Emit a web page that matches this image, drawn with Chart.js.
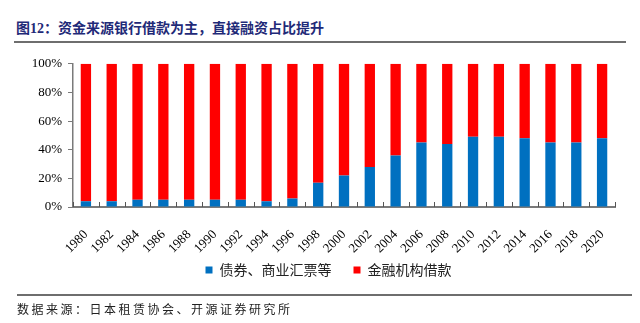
<!DOCTYPE html>
<html>
<head>
<meta charset="utf-8">
<script src="https://cdn.jsdelivr.net/npm/chart.js@4.4.0/dist/chart.umd.min.js"></script>
<style>
  body { margin: 0; background: #fff; }
  #wrap { position: relative; width: 640px; height: 323px; overflow: hidden; }
  #title { position: absolute; left: 16px; top: 17px; font: bold 14px "Liberation Serif", "Noto Sans CJK SC"; color: #1f2a78; white-space: nowrap; }
  .rule { position: absolute; height: 0; border-top: 2px solid #6e6e6e; z-index: 2; }
  #chartCanvas { position: absolute; left: 0; top: 50px; }
  #source { position: absolute; left: 17px; top: 300px; font: 12px "Noto Sans CJK SC"; letter-spacing: 2.5px; color: #222; white-space: nowrap; }
</style>
</head>
<body>
<div id="wrap">
  <div id="title">图12：资金来源银行借款为主，直接融资占比提升</div>
  <div class="rule" style="left:14px; top:41px; width:612px;"></div>
  <canvas id="chartCanvas" width="640" height="252"></canvas>
  <div class="rule" style="left:17px; top:294px; width:615px;"></div>
  <div id="source">数据来源：日本租赁协会、开源证券研究所</div>
</div>
<script>
const years = ['1980', '1982', '1984', '1986', '1988', '1990', '1992', '1994', '1996', '1998', '2000',
               '2002', '2004', '2006', '2008', '2010', '2012', '2014', '2016', '2018', '2020'];
// 债券、商业汇票等 share (%)
const bondShare = [4, 4, 5, 5, 5, 5, 5, 4, 6, 17, 22, 28, 36, 45, 44, 49, 49, 48, 45, 45, 48];
// 金融机构借款 share (%)
const loanShare = [96, 96, 95, 95, 95, 95, 95, 96, 94, 83, 78, 72, 64, 55, 56, 51, 51, 52, 55, 55, 52];
const yTicks = ['0%', '20%', '40%', '60%', '80%', '100%'];

// small tick marks pointing up into the plot, between the bars
const innerTicks = {
    id: 'innerTicks',
    afterDatasetsDraw(chart) {
        const x = chart.scales.x;
        const ctx = chart.ctx;
        const half = (x.getPixelForValue(1) - x.getPixelForValue(0)) / 2;
        ctx.save();
        ctx.strokeStyle = '#555';
        ctx.lineWidth = 1;
        for (let i = 0; i <= years.length; i++) {
            const px = Math.round(x.getPixelForValue(i) - half) + 0.5;
            ctx.beginPath();
            ctx.moveTo(px, x.top);
            ctx.lineTo(px, x.top - 5);
            ctx.stroke();
        }
        ctx.restore();
    }
};

// pull the legend up closer to the rotated year labels, and a bit to the right
const legendShift = {
    id: 'legendShift',
    afterLayout(chart) {
        const lg = chart.legend;
        lg.top -= 15;
        lg.bottom -= 15;
        lg.left += 6;
        lg.right += 6;
    }
};

new Chart(document.getElementById('chartCanvas').getContext('2d'), {
    type: 'bar',
    data: {
        labels: years,
        datasets: [
            { label: '债券、商业汇票等', data: bondShare, backgroundColor: '#0070c0', borderWidth: 0 },
            { label: '金融机构借款', data: loanShare, backgroundColor: '#ff0000', borderWidth: 0 }
        ]
    },
    options: {
        responsive: false,
        animation: false,
        events: [],
        barPercentage: 0.4,
        categoryPercentage: 1,
        layout: { padding: { left: 30, right: 25, top: 12, bottom: 0 } },
        plugins: {
            tooltip: { enabled: false },
            legend: {
                position: 'bottom',
                labels: {
                    boxWidth: 7,
                    boxHeight: 7,
                    padding: 22,
                    color: '#222',
                    font: { family: 'Noto Sans CJK SC', size: 14 }
                }
            }
        },
        scales: {
            x: {
                stacked: true,
                grid: { display: false },
                border: { display: true, color: '#7a7a7a', width: 2 },
                ticks: {
                    color: '#000',
                    minRotation: 45,
                    maxRotation: 45,
                    padding: 12,
                    autoSkip: false,
                    font: { family: 'Liberation Serif', size: 13 }
                },
                afterFit(scale) { scale.height = 49; }
            },
            y: {
                stacked: true,
                min: 0,
                max: 100,
                grid: { drawOnChartArea: false, drawTicks: true, tickLength: 5, color: '#7a7a7a', lineWidth: 1 },
                border: { display: true, color: '#7a7a7a', width: 1.5 },
                ticks: {
                    stepSize: 20,
                    padding: 6,
                    color: '#000',
                    font: { family: 'Liberation Serif', size: 13 },
                    callback: (value) => yTicks[value / 20]
                },
                afterFit(scale) { scale.width = 43; }
            }
        }
    },
    plugins: [innerTicks, legendShift]
});
</script>
</body>
</html>
